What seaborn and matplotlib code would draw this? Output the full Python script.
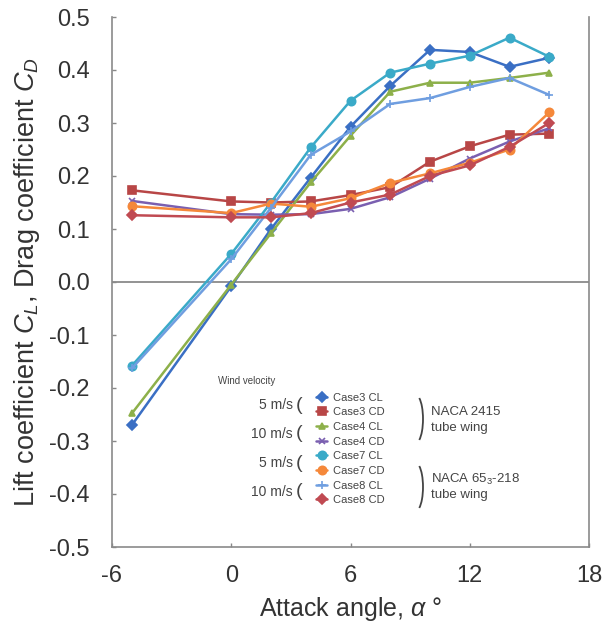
import matplotlib
matplotlib.use("Agg")
import matplotlib.pyplot as plt
from matplotlib.patches import Arc
import seaborn as sns

# Attack angle (deg)
alpha = [-5, 0, 2, 4, 6, 8, 10, 12, 14, 16]

# NACA 2415 tube wing
case3_cl = [-0.270, -0.008, 0.100, 0.197, 0.293, 0.370, 0.438, 0.434, 0.406, 0.423]
case3_cd = [0.173, 0.152, 0.150, 0.152, 0.164, 0.179, 0.227, 0.256, 0.278, 0.280]
case4_cl = [-0.248, -0.005, 0.092, 0.188, 0.276, 0.359, 0.376, 0.376, 0.385, 0.395]
case4_cd = [0.153, 0.128, 0.127, 0.128, 0.138, 0.160, 0.195, 0.233, 0.265, 0.290]
# NACA 65_3-218 tube wing
case7_cl = [-0.158, 0.053, 0.150, 0.254, 0.342, 0.395, 0.412, 0.427, 0.461, 0.425]
case7_cd = [0.143, 0.130, 0.148, 0.142, 0.158, 0.187, 0.205, 0.225, 0.250, 0.320]
case8_cl = [-0.163, 0.043, 0.140, 0.240, 0.284, 0.336, 0.347, 0.368, 0.385, 0.353]
case8_cd = [0.126, 0.122, 0.122, 0.130, 0.150, 0.165, 0.200, 0.220, 0.255, 0.300]

series = [
    ("Case3 CL", case3_cl, "#3a6fc4", "D", 5),
    ("Case3 CD", case3_cd, "#b84646", "s", 6),
    ("Case4 CL", case4_cl, "#8db04a", "^", 5),
    ("Case4 CD", case4_cd, "#7a5fb0", "x", 5),
    ("Case7 CL", case7_cl, "#3aaac8", "o", 6),
    ("Case7 CD", case7_cd, "#f5883a", "o", 6),
    ("Case8 CL", case8_cl, "#6f9ee0", "+", 6),
    ("Case8 CD", case8_cd, "#c04a52", "D", 5),
]

sns.set_style("ticks")
plt.rcParams["font.family"] = ["Liberation Sans", "DejaVu Sans"]
plt.rcParams["mathtext.fontset"] = "custom"
plt.rcParams["mathtext.rm"] = "Liberation Sans"
plt.rcParams["mathtext.it"] = "Liberation Sans:italic"
plt.rcParams["axes.unicode_minus"] = False

fig = plt.figure(figsize=(6.02, 6.24), dpi=100)
ax = fig.add_axes([112 / 602, 1 - 547 / 624, 477 / 602, 530 / 624])

ax.axhline(0, color="#8a8a8a", lw=1.3, zorder=1)

for name, vals, col, mk, ms in series:
    sns.lineplot(x=alpha, y=vals, ax=ax, color=col, marker=mk, markersize=ms,
                 markeredgecolor=col, markeredgewidth=1.2, lw=1.8, label=name)

ax.set_xlim(-6, 18)
ax.set_ylim(-0.5, 0.5)
ax.set_xticks([-6, 0, 6, 12, 18])
ax.set_yticks([-0.5, -0.4, -0.3, -0.2, -0.1, 0.0, 0.1, 0.2, 0.3, 0.4, 0.5])
ax.set_yticklabels([f"{v:.1f}" for v in ax.get_yticks()])
ax.tick_params(direction="in", length=3, width=1, color="#888888",
               labelsize=17, labelcolor="#333333")
ax.tick_params(axis="x", pad=13)
ax.tick_params(axis="y", pad=16)

for side in ["left", "bottom", "right"]:
    ax.spines[side].set_color("#8a8a8a")
    ax.spines[side].set_linewidth(1.2)
ax.spines["top"].set_visible(False)

ax.set_xlabel("Attack angle, $\\alpha$ °", fontsize=18, color="#333333", labelpad=6)
ax.set_ylabel("Lift coefficient $C_L$, Drag coefficient $C_D$", fontsize=19.5,
              color="#333333", labelpad=5)

leg = ax.legend(loc="center left", bbox_to_anchor=((316 - 112) / 477, (547 - 449) / 530),
                frameon=False, fontsize=8, handlelength=1.0, handletextpad=0.5,
                labelspacing=0.42, borderpad=0, borderaxespad=0)
for t in leg.get_texts():
    t.set_color("#444444")

def ftxt(px, py, s, **kw):
    fig.text(px / 602, 1 - py / 624, s, color="#444444", **kw)

ftxt(218, 381, "Wind velocity", fontsize=7, va="center", ha="left")
for py, lab in [(405, "5 m/s"), (434, "10 m/s"), (463, "5 m/s"), (492, "10 m/s")]:
    ftxt(293, py, lab, fontsize=10, va="center", ha="right")
    ftxt(296, py, "(", fontsize=14, va="center", ha="left")

# right-hand brackets grouping the wing profiles
for yc in [419, 487]:
    fig.add_artist(Arc(((423 - 7.3) / 602, 1 - yc / 624), 14.6 / 602, 48 / 624,
                       theta1=-80, theta2=80, transform=fig.transFigure,
                       color="#444444", lw=1.3))

ftxt(431, 412, "NACA 2415", fontsize=9.5, va="center", ha="left")
ftxt(431, 428, "tube wing", fontsize=9.5, va="center", ha="left")
ftxt(431, 479, "NACA 65$_3$-218", fontsize=9.5, va="center", ha="left")
ftxt(431, 495, "tube wing", fontsize=9.5, va="center", ha="left")

fig.savefig("out.png", dpi=100)
